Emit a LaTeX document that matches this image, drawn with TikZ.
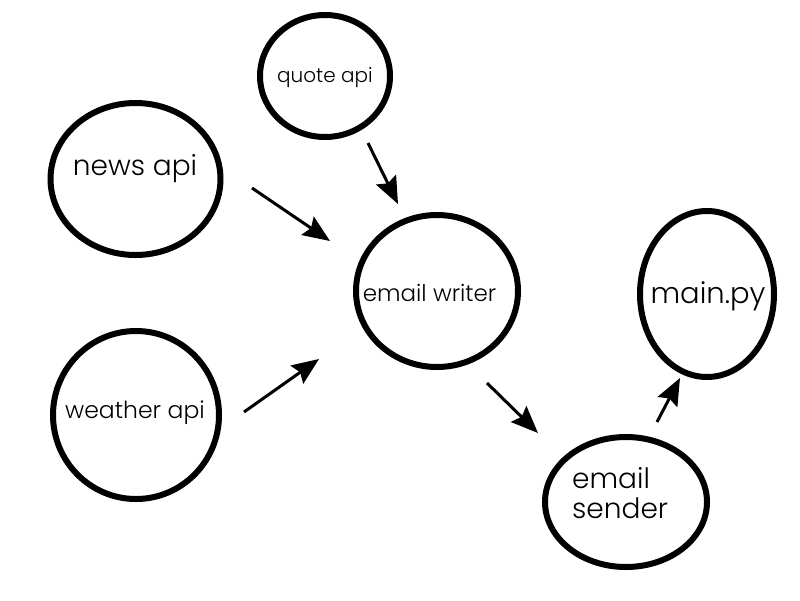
\documentclass[tikz,border=0pt]{standalone}
\usepackage{fontspec}
\setmainfont{Poppins Light}
\usetikzlibrary{shapes.geometric,arrows.meta}
\begin{document}
\begin{tikzpicture}[x=1pt,y=-1pt,
  bubble/.style={draw=black, line width=6pt, ellipse, inner sep=0pt},
  lbl/.style={inner sep=0pt, anchor=base, text=black},
  arr/.style={line width=3pt, -{Stealth[length=27pt,width=22pt,inset=4pt]}}]
\useasboundingbox (0,0) rectangle (800,600);
% bubbles
\node[bubble, minimum width=130pt, minimum height=122pt] (quote) at (325,76) {};
\node[bubble, minimum width=170pt, minimum height=152pt] (news) at (135.5,179) {};
\node[bubble, minimum width=166pt, minimum height=168pt] (weather) at (136,415) {};
\node[bubble, minimum width=162pt, minimum height=152pt] (writer) at (437,291) {};
\node[bubble, minimum width=134pt, minimum height=166pt] (main) at (707,294) {};
\node[bubble, minimum width=162pt, minimum height=130pt] (sender) at (626,502) {};
% labels
\node[lbl, font=\fontsize{20}{24}\selectfont] (quoteT) at (325,82) {quote api};
\node[lbl, font=\fontsize{28}{32}\selectfont] (newsT) at (135,175) {news api};
\node[lbl, font=\fontsize{23.5}{28}\selectfont] (weatherT) at (135,418) {weather api};
\node[lbl, font=\fontsize{23}{28}\selectfont] (writerT) at (429.5,301) {email writer};
\node[lbl, font=\fontsize{29}{34}\selectfont] (mainT) at (708,303) {main.py};
\node[inner sep=0pt, anchor=base west, align=left, text=black,
      font=\fontsize{28}{30}\selectfont] (senderT) at (572,518) {email\\sender};
% arrow end points
\coordinate (a1s) at (252,188); \coordinate (a1e) at (330,241);
\coordinate (a2s) at (368,143); \coordinate (a2e) at (398,204);
\coordinate (a3s) at (244,412); \coordinate (a3e) at (319,359);
\coordinate (a4s) at (487,383); \coordinate (a4e) at (538,433);
\coordinate (a5s) at (657,422); \coordinate (a5e) at (680,378);
\draw[arr] (a1s) -- (a1e);
\draw[arr] (a2s) -- (a2e);
\draw[arr] (a3s) -- (a3e);
\draw[arr] (a4s) -- (a4e);
\draw[arr] (a5s) -- (a5e);
\end{tikzpicture}
\end{document}
